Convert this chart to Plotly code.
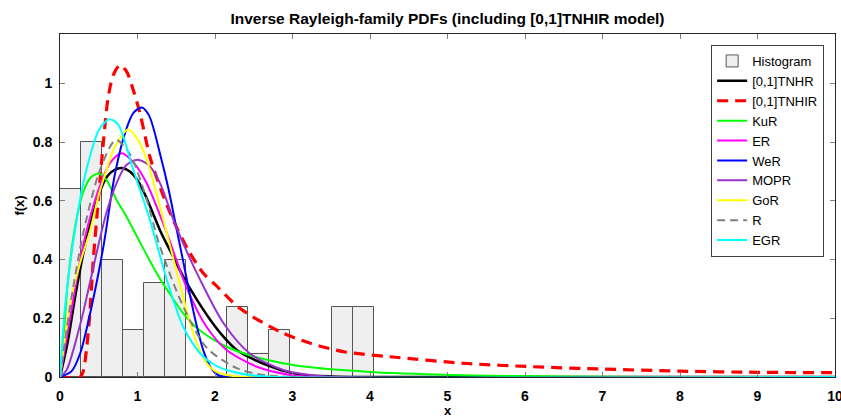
import plotly.graph_objects as go

# ---- histogram (density) ----
bin_edges = [0.0, 0.27, 0.54, 0.81, 1.08, 1.35, 1.62, 1.89, 2.16, 2.43, 2.70, 2.97, 3.24, 3.51, 3.78, 4.05]
hist_density = [0.64, 0.80, 0.40, 0.16, 0.32, 0.40, 0.0, 0.0, 0.24, 0.08, 0.16, 0.0, 0.0, 0.24, 0.24]

# ---- fitted PDFs ----
tnhr_x = [0, 0.1, 0.2, 0.3, 0.4, 0.5, 0.6, 0.7, 0.8, 0.9, 1.0, 1.1, 1.29, 1.45, 1.59, 1.75, 1.94, 2.1, 2.28, 2.5, 2.67, 2.9, 3.14, 3.5, 4, 10]
tnhr_y = [0, 0.12, 0.28, 0.42, 0.53, 0.62, 0.68, 0.705, 0.712, 0.70, 0.67, 0.62, 0.5, 0.415, 0.342, 0.27, 0.194, 0.14, 0.092, 0.06, 0.041, 0.02, 0.007, 0.002, 0, 0]

tnhir_x = [0, 0.26, 0.3, 0.34, 0.38, 0.43, 0.5, 0.56, 0.62, 0.69, 0.774, 0.86, 0.93, 1.03, 1.16, 1.3, 1.46, 1.655, 1.85, 2.02, 2.32, 2.84, 3.23, 3.66, 4.26, 5.25, 6.1, 7, 8, 9, 10]
tnhir_y = [0, 0, 0.02, 0.09, 0.2, 0.4, 0.62, 0.8, 0.95, 1.03, 1.062, 1.04, 0.99, 0.9, 0.75, 0.64, 0.535, 0.432, 0.353, 0.31, 0.234, 0.154, 0.115, 0.086, 0.069, 0.046, 0.035, 0.027, 0.02, 0.016, 0.0147]

kur_x = [0, 0.05, 0.1, 0.2, 0.3, 0.4, 0.5, 0.6, 0.73, 0.85, 0.99, 1.15, 1.3, 1.45, 1.59, 1.8, 2.15, 2.5, 2.88, 3.23, 3.96, 5.03, 6, 7, 8, 10]
kur_y = [0, 0.15, 0.32, 0.52, 0.63, 0.68, 0.693, 0.67, 0.603, 0.55, 0.48, 0.4, 0.33, 0.27, 0.217, 0.16, 0.103, 0.07, 0.047, 0.033, 0.018, 0.007, 0.003, 0.001, 0, 0]

er_x = [0, 0.13, 0.3, 0.5, 0.65, 0.796, 0.95, 1.12, 1.38, 1.63, 1.89, 2.15, 2.54, 2.97, 3.3, 10]
er_y = [0, 0.2, 0.45, 0.64, 0.73, 0.762, 0.73, 0.659, 0.489, 0.307, 0.171, 0.092, 0.035, 0.007, 0, 0]

wer_x = [0, 0.15, 0.26, 0.4, 0.56, 0.71, 0.85, 0.95, 1.054, 1.15, 1.3, 1.4, 1.5, 1.6, 1.655, 1.75, 1.85, 1.95, 2.05, 2.3, 10]
wer_y = [0, 0.02, 0.08, 0.23, 0.444, 0.693, 0.84, 0.9, 0.918, 0.89, 0.75, 0.64, 0.51, 0.38, 0.307, 0.19, 0.09, 0.03, 0.005, 0, 0]

mopr_x = [0, 0.086, 0.17, 0.236, 0.3, 0.47, 0.6, 0.73, 0.85, 1.0, 1.15, 1.29, 1.5, 1.81, 2.11, 2.45, 2.88, 3.23, 3.6, 10]
mopr_y = [0, 0.024, 0.09, 0.154, 0.22, 0.42, 0.56, 0.66, 0.72, 0.74, 0.72, 0.66, 0.51, 0.33, 0.183, 0.08, 0.024, 0.007, 0, 0]

gor_x = [0, 0.13, 0.25, 0.39, 0.5, 0.6, 0.7, 0.88, 1.0, 1.12, 1.29, 1.5, 1.72, 1.89, 2.0, 2.15, 2.4, 10]
gor_y = [0, 0.25, 0.38, 0.5, 0.62, 0.705, 0.78, 0.843, 0.81, 0.739, 0.58, 0.364, 0.149, 0.047, 0.02, 0.007, 0, 0]

r_x = [0, 0.13, 0.3, 0.516, 0.72, 0.9, 1.1, 1.29, 1.59, 1.89, 2.28, 2.6, 3.0, 10]
r_y = [0, 0.24, 0.49, 0.705, 0.807, 0.76, 0.62, 0.444, 0.24, 0.10, 0.03, 0.008, 0, 0]

egr_x = [0, 0.03, 0.065, 0.17, 0.3, 0.41, 0.5, 0.636, 0.75, 0.946, 1.16, 1.38, 1.59, 1.81, 2.0, 2.23, 2.5, 2.8, 10]
egr_y = [0, 0.12, 0.24, 0.46, 0.66, 0.773, 0.84, 0.878, 0.86, 0.705, 0.535, 0.33, 0.171, 0.08, 0.04, 0.018, 0.005, 0, 0]

x_ticks = [0, 1, 2, 3, 4, 5, 6, 7, 8, 9, 10]
y_ticks = [0, 0.2, 0.4, 0.6, 0.8, 1]
y_tick_labels = ["0", "0.2", "0.4", "0.6", "0.8", "1"]

FONT = "Liberation Sans, Arial, sans-serif"

fig = go.Figure()

centers = [(a + b) / 2 for a, b in zip(bin_edges[:-1], bin_edges[1:])]
widths = [b - a for a, b in zip(bin_edges[:-1], bin_edges[1:])]
fig.add_trace(go.Bar(x=centers, y=hist_density, width=widths, name="Histogram",
                     marker=dict(color="#efefef", line=dict(color="#555555", width=1))))

curves = [
    ("[0,1]TNHR", tnhr_x, tnhr_y, "#000000", 2.5, "solid"),
    ("[0,1]TNHIR", tnhir_x, tnhir_y, "#ff0000", 3.2, "11px,7px"),
    ("KuR", kur_x, kur_y, "#00ff00", 2, "solid"),
    ("ER", er_x, er_y, "#ff00ff", 2, "solid"),
    ("WeR", wer_x, wer_y, "#0000ff", 2, "solid"),
    ("MOPR", mopr_x, mopr_y, "#9933cc", 2, "solid"),
    ("GoR", gor_x, gor_y, "#ffff00", 2, "solid"),
    ("R", r_x, r_y, "#808080", 2, "8px,5px"),
    ("EGR", egr_x, egr_y, "#00ffff", 2, "solid"),
]
for name, xs, ys, col, w, dash in curves:
    fig.add_trace(go.Scatter(x=xs, y=ys, mode="lines", name=name,
                             line=dict(color=col, width=w, dash=dash, shape="spline", smoothing=0.8)))

axis_common = dict(showline=True, linecolor="#262626", linewidth=1, mirror="ticks",
                   ticks="inside", ticklen=5, tickcolor="#808080", showgrid=False, zeroline=False,
                   ticklabeloverflow="allow", automargin=False,
                   tickfont=dict(family=FONT, size=14, color="#000000", weight="bold"))

fig.update_layout(
    width=841, height=418,
    margin=dict(l=60, r=6, t=34, b=41),
    paper_bgcolor="white", plot_bgcolor="white",
    bargap=0,
    title=dict(text="Inverse Rayleigh-family PDFs (including [0,1]TNHIR model)",
               x=0.5, xref="paper", xanchor="center", y=0.955, yanchor="middle",
               font=dict(family=FONT, size=15.5, color="#000000", weight="bold")),
    xaxis=dict(range=[0, 10], tickvals=x_ticks, ticklabelstandoff=6,
               title=dict(text="x", standoff=7, font=dict(family=FONT, size=13, color="#000000", weight="bold")),
               **axis_common),
    yaxis=dict(range=[0, 1.168], tickvals=y_ticks, ticktext=y_tick_labels, ticklabelstandoff=4,
               title=dict(text="f(x)", standoff=5, font=dict(family=FONT, size=13, color="#000000", weight="bold")),
               **axis_common),
    legend=dict(x=0.986, xanchor="right", y=0.968, yanchor="top",
                bgcolor="white", bordercolor="#404040", borderwidth=1,
                font=dict(family=FONT, size=13, color="#000000"),
                tracegroupgap=0, itemwidth=30),
    showlegend=True,
)

fig.write_html("out.html")
